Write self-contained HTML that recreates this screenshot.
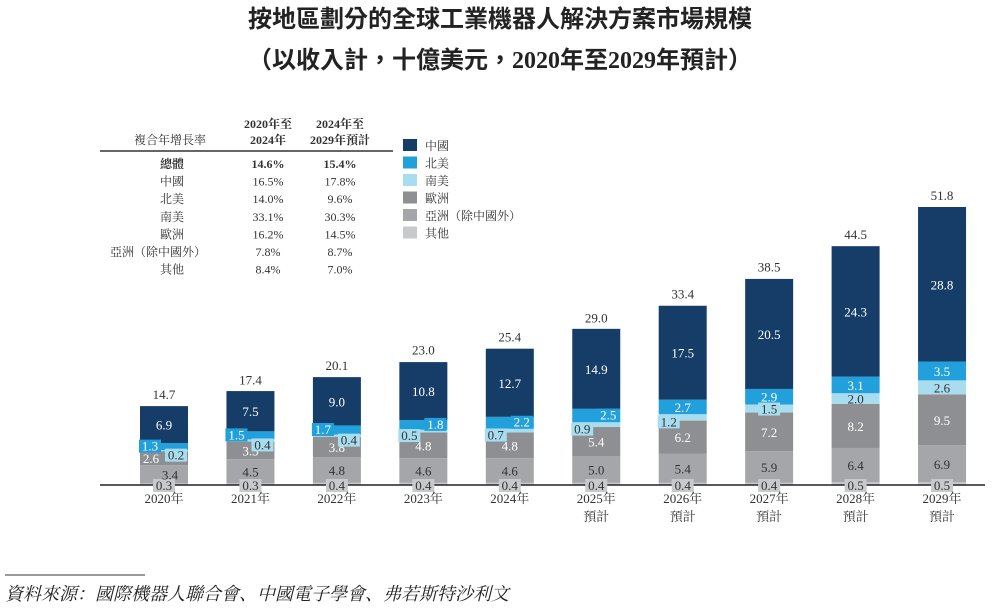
<!DOCTYPE html>
<html><head><meta charset="utf-8"><style>
body{margin:0;background:#fff;}
svg{display:block;font-family:"Liberation Serif","Noto Serif CJK SC",serif;}
</style></head><body>
<svg id="c" width="1000" height="610" viewBox="0 0 1000 610">
<text x="500" y="27" text-anchor="middle" font-size="24" font-weight="bold" fill="#222" style="font-family:'Liberation Sans','Noto Sans CJK TC',sans-serif">按地區劃分的全球工業機器人解決方案市場規模</text>
<text x="500" y="68" text-anchor="middle" font-size="24" font-weight="bold" fill="#222" style="font-family:'Liberation Serif','Noto Sans CJK TC',sans-serif">（以收入計，十億美元，2020年至2029年預計）</text>
<g id="tbl" font-size="12" fill="#333">
<text x="170" y="144" text-anchor="middle">複合年增長率</text>
<text x="268" y="128" text-anchor="middle" font-weight="bold">2020年至</text>
<text x="268" y="144" text-anchor="middle" font-weight="bold">2024年</text>
<text x="340" y="128" text-anchor="middle" font-weight="bold">2024年至</text>
<text x="340" y="144" text-anchor="middle" font-weight="bold">2029年預計</text>
<line x1="100" y1="151" x2="393" y2="151" stroke="#333" stroke-width="1.5"/>
</g>
<g id="bars"></g>
<line x1="100" y1="485" x2="985" y2="485" stroke="#222" stroke-width="1.5"/>
<g id="labels"></g>
<g id="legend"></g>
<line x1="5" y1="575" x2="145" y2="575" stroke="#333" stroke-width="1"/>
<text x="5" y="600" font-size="18" font-style="italic" fill="#222">資料來源：國際機器人聯合會、中國電子學會、弗若斯特沙利文</text>
</svg>
<script>
const categories=["2020年","2021年","2022年","2023年","2024年","2025年","2026年","2027年","2028年","2029年"];
const forecast=[false,false,false,false,false,true,true,true,true,true];
const other=[0.3,0.3,0.4,0.4,0.4,0.4,0.4,0.4,0.5,0.5];
const asia=[3.4,4.5,4.8,4.6,4.6,5.0,5.4,5.9,6.4,6.9];
const europe=[2.6,3.3,3.8,4.8,4.8,5.4,6.2,7.2,8.2,9.5];
const southAmerica=[0.2,0.4,0.4,0.5,0.7,0.9,1.2,1.5,2.0,2.6];
const northAmerica=[1.3,1.5,1.7,1.8,2.2,2.5,2.7,2.9,3.1,3.5];
const china=[6.9,7.5,9.0,10.8,12.7,14.9,17.5,20.5,24.3,28.8];
const totals=[14.7,17.4,20.1,23.0,25.4,29.0,33.4,38.5,44.5,51.8];
const seriesNames=["中國","北美","南美","歐洲","亞洲（除中國外）","其他"];
const cagrRows=["總體","中國","北美","南美","歐洲","亞洲（除中國外）","其他"];
const cagr1=["14.6%","16.5%","14.0%","33.1%","16.2%","7.8%","8.4%"];
const cagr2=["15.4%","17.8%","9.6%","30.3%","14.5%","8.7%","7.0%"];

const NS="http://www.w3.org/2000/svg";
const svg=document.getElementById('c');
function mk(tag,at,parent){const e=document.createElementNS(NS,tag);for(const k in at)e.setAttribute(k,at[k]);(parent||svg).appendChild(e);return e;}
const base=485, scale=278/51.8;
const y=v=>base-v*scale;
const xc=i=>164+i*86.45;
const bw=48;
const series=[
 {d:other,c:"#c8c9cb",t:"#333",n:"other"},
 {d:asia,c:"#a5a6a9",t:"#333",n:"asia-ex-china"},
 {d:europe,c:"#8e8f92",t:"#fff",n:"europe"},
 {d:southAmerica,c:"#a8dcef",t:"#333",n:"south-america"},
 {d:northAmerica,c:"#22a0dc",t:"#fff",n:"north-america"},
 {d:china,c:"#163d68",t:"#fff",n:"china"}];
const bars=document.getElementById('bars');
const labels=document.getElementById('labels');
categories.forEach((cat,i)=>{
  let cum=0;
  series.forEach((s,si)=>{
    const v=s.d[i];
    const r=mk('rect',{x:xc(i)-bw/2,y:y(cum+v),width:bw,height:v*scale,fill:s.c},bars);
    
    
    let lx=xc(i), ly=y(cum+v/2)+5, bg=false;
    if(s.n==='other'){ly=base+5;bg=true;}
    if(s.n==='north-america'){ if(v*scale<14){lx=xc(i)+(i<3?-14:12);bg=true;ly=y(cum+v/2)+4;} }
    if(s.n==='south-america'){
      if(v*scale<10){ lx=(i>=7)?xc(i):xc(i)+(i<3?12:-14); ly=y(cum+v/2)+(i>=7?5:9); bg=true; }
    }
    if(s.n==='europe'&&i===0) lx=xc(i)-13;
    if(s.n==='asia-ex-china'&&i===0) lx=xc(i)+6;
    if(bg){
      const b=mk('rect',{x:lx-11,y:ly-11,width:22,height:13,fill:s.c},labels);
      
      
    }
    const t=mk('text',{x:lx,y:ly,'text-anchor':'middle','font-size':13,fill:s.t},labels);
    t.textContent=v.toFixed(1);
    
    
    cum+=v;
  });
  const tt=mk('text',{x:xc(i),y:y(totals[i])-7,'text-anchor':'middle','font-size':13,fill:'#333'},labels);
  tt.textContent=totals[i].toFixed(1);
  
  
  const xl=mk('text',{x:xc(i),y:503,'text-anchor':'middle','font-size':13,fill:'#333'},labels);
  xl.textContent=cat;
  
  
  if(forecast[i]){
    const fl=mk('text',{x:xc(i),y:521,'text-anchor':'middle','font-size':13,fill:'#333'},labels);
    fl.textContent='預計';
    
    
  }
});
const lg=document.getElementById('legend');
const lcol=["#163d68","#22a0dc","#a8dcef","#8e8f92","#a5a6a9","#c8c9cb"];
seriesNames.forEach((n,k)=>{
  const yy=139+k*17.5;
  const r=mk('rect',{x:403,y:yy,width:14,height:12,fill:lcol[k]},lg);
  
  
  const t=mk('text',{x:425,y:yy+11,'font-size':12,fill:'#333'},lg);
  t.textContent=n;
  
  
});
const tbl=document.getElementById('tbl');
cagrRows.forEach((n,k)=>{
  const yy=168+k*17.6;
  const a=mk('text',{x:k===5?110:160,y:yy,'font-size':12,'font-weight':k===0?'bold':'normal'},tbl);
  a.textContent=n;
  
  
  const b=mk('text',{x:268,y:yy,'text-anchor':'middle','font-size':12,'font-weight':k===0?'bold':'normal'},tbl);
  b.textContent=cagr1[k];
  
  
  const c=mk('text',{x:340,y:yy,'text-anchor':'middle','font-size':12,'font-weight':k===0?'bold':'normal'},tbl);
  c.textContent=cagr2[k];
  
  
});
</script>
</body></html>
